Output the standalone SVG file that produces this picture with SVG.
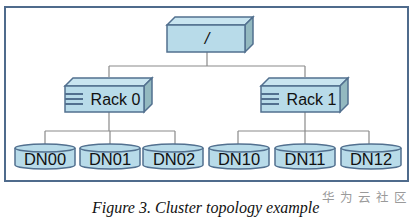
<svg xmlns="http://www.w3.org/2000/svg" width="420" height="222" viewBox="0 0 420 222">
<style>
.front{fill:#b8dbe9;stroke:#52708f;stroke-width:1.5}
.top{fill:#c9e5f0;stroke:#52708f;stroke-width:1.5}
.side{fill:#93b9c0;stroke:#52708f;stroke-width:1.5}
.bar{stroke:#52708f;stroke-width:2}
.cyl{fill:#b8dbe9;stroke:#52708f;stroke-width:1.5}
.lbl{font-family:"Liberation Sans",Arial,sans-serif;font-size:16.5px;fill:#111;text-anchor:middle}
.conn{fill:none;stroke:#8a8a8a;stroke-width:1.2}
</style>
<rect x="0" y="0" width="420" height="222" fill="#fff"/>
<rect x="5" y="7" width="403" height="174" fill="none" stroke="#4f6b8c" stroke-width="2"/>
<g id="connectors">
<path class="conn" d="M207,52V66M109,66H305M109,66V77M305,66V77"/>
<path class="conn" d="M109,112V131M45,131H175M45,131V144M110,131V144M175,131V144"/>
<path class="conn" d="M305,112V131M238,131H369M238,131V144M305,131V144M369,131V144"/>
</g>
<g id="root">
<polygon class="top" points="167,25 175,17 253,17 245,25"/>
<polygon class="side" points="245,25 253,17 253,44 245,52"/>
<rect class="front" x="167" y="25" width="78" height="27"/>
<text class="lbl" x="207" y="44" font-style="italic" font-size="17">/</text>
</g>
<g id="rack0">
<polygon class="top" points="65,86 73,78 152,78 144,86"/>
<polygon class="side" points="144,86 152,78 152,104 144,112"/>
<rect class="front" x="65" y="86" width="79" height="26"/>
<path class="bar" d="M65,94H83M65,99H83M65,104H83"/>
<text class="lbl" x="115.5" y="105" style="font-size:16px">Rack 0</text>
</g>
<g id="rack1">
<polygon class="top" points="261,86 269,78 348,78 340,86"/>
<polygon class="side" points="340,86 348,78 348,104 340,112"/>
<rect class="front" x="261" y="86" width="79" height="26"/>
<path class="bar" d="M261,94H279M261,99H279M261,104H279"/>
<text class="lbl" x="311.5" y="105" style="font-size:16px">Rack 1</text>
</g>
<g id="dn00">
<path class="cyl" d="M15,148V165A30,4 0 0 0 75,165V148"/>
<ellipse class="cyl" cx="45" cy="148" rx="30" ry="4"/>
<text class="lbl" x="45" y="165">DN00</text>
</g>
<g id="dn01">
<path class="cyl" d="M80,148V165A30,4 0 0 0 140,165V148"/>
<ellipse class="cyl" cx="110" cy="148" rx="30" ry="4"/>
<text class="lbl" x="110" y="165">DN01</text>
</g>
<g id="dn02">
<path class="cyl" d="M143,148V165A30,4 0 0 0 203,165V148"/>
<ellipse class="cyl" cx="173" cy="148" rx="30" ry="4"/>
<text class="lbl" x="174" y="165">DN02</text>
</g>
<g id="dn10">
<path class="cyl" d="M209,148V165A30,4 0 0 0 269,165V148"/>
<ellipse class="cyl" cx="239" cy="148" rx="30" ry="4"/>
<text class="lbl" x="239" y="165">DN10</text>
</g>
<g id="dn11">
<path class="cyl" d="M275,148V165A30,4 0 0 0 335,165V148"/>
<ellipse class="cyl" cx="305" cy="148" rx="30" ry="4"/>
<text class="lbl" x="305" y="165">DN11</text>
</g>
<g id="dn12">
<path class="cyl" d="M341,148V165A30,4 0 0 0 401,165V148"/>
<ellipse class="cyl" cx="371" cy="148" rx="30" ry="4"/>
<text class="lbl" x="371" y="165">DN12</text>
</g>
<text x="92" y="213" font-family="'Liberation Serif','Times New Roman',serif" font-style="italic" font-size="16" fill="#111">Figure 3. Cluster topology example</text>
<text x="322" y="202" font-family="'Noto Sans CJK SC',sans-serif" font-size="12.5" fill="#9a9a9a" letter-spacing="5.5">华为云社区</text>
</svg>
